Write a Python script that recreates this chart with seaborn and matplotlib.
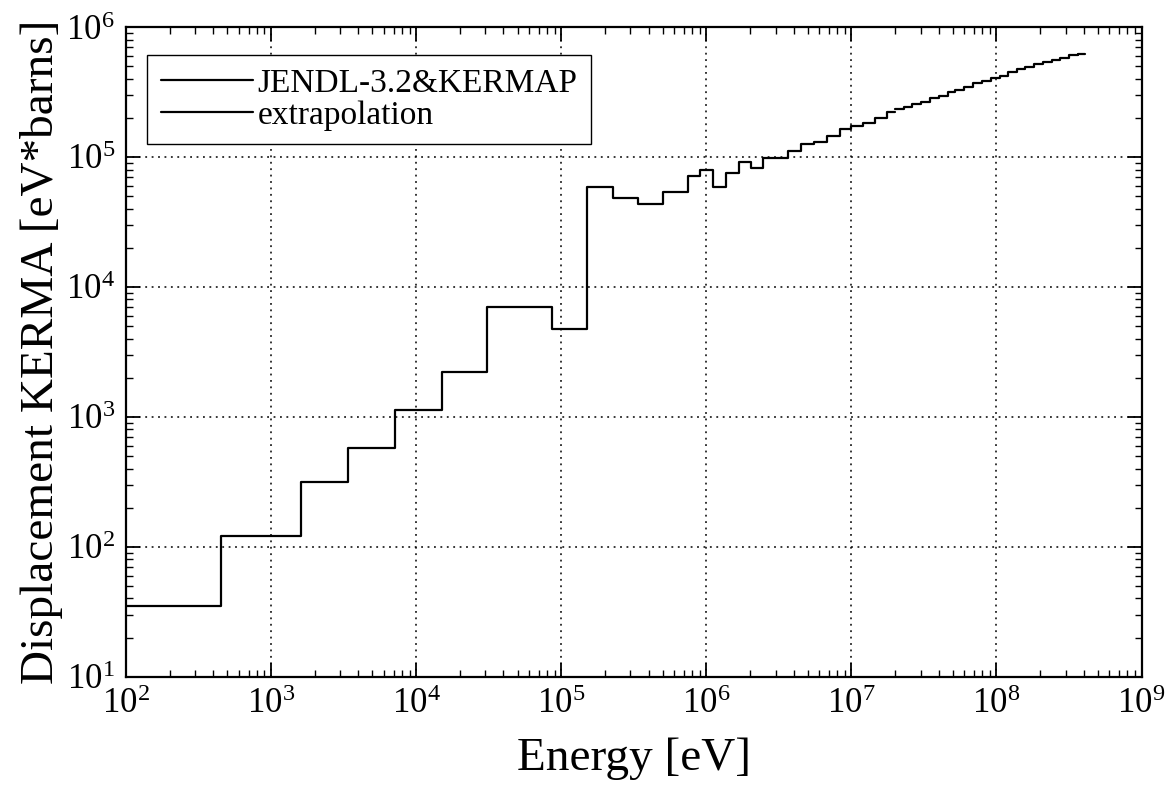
import numpy as np
import pandas as pd
import matplotlib
matplotlib.use("Agg")
import matplotlib.pyplot as plt
import seaborn as sns
from matplotlib.ticker import LogLocator, LogFormatterSciNotation, NullFormatter

# Displacement KERMA group structure (bin edges in eV and group values in eV*barns)
jendl_edges = [1.0e2, 4.5e2, 1.6e3, 3.4e3, 7.2e3, 1.5e4, 3.1e4, 8.7e4, 1.5e5,
               2.26e5, 3.38e5, 5.02e5, 7.43e5, 9.03e5, 1.12e6, 1.36e6, 1.67e6,
               2.04e6, 2.47e6, 3.66e6, 4.49e6, 5.52e6, 6.75e6, 8.34e6, 1.0e7,
               1.2e7, 1.45e7, 1.75e7, 2.0e7]
jendl_values = [35, 121, 315, 580, 1130, 2200, 7000, 4700, 59000, 48700,
                43500, 54000, 71000, 79000, 58600, 75700, 91500, 82300, 98500,
                111000, 125000, 130000, 145000, 163000, 172000, 182000,
                200000, 223000]

extrap_edges = [2.0e7, 2.3e7, 2.6e7, 3.0e7, 3.5e7, 4.0e7, 4.6e7, 5.2e7, 6.0e7,
                6.9e7, 8.0e7, 9.1e7, 1.05e8, 1.2e8, 1.38e8, 1.58e8, 1.82e8,
                2.09e8, 2.4e8, 2.75e8, 3.16e8, 3.63e8, 4.05e8]
extrap_values = [232000, 243000, 255000, 266000, 282000, 297000, 314000,
                 330000, 348000, 368000, 384000, 402000, 422000, 448000,
                 472000, 494000, 518000, 540000, 562000, 582000, 604000,
                 622000]

series_labels = ["JENDL-3.2&KERMAP", "extrapolation"]

x_label = "Energy [eV]"
y_label = "Displacement KERMA [eV*barns]"


def step_frame(edges, values, name):
    # steps-post needs the final edge repeated with the last value
    return pd.DataFrame({
        "energy": list(edges),
        "kerma": list(values) + [values[-1]],
        "source": name,
    })


sns.set_style("ticks")
plt.rcParams["font.family"] = ["Liberation Serif", "DejaVu Serif"]
plt.rcParams["mathtext.fontset"] = "custom"
plt.rcParams["mathtext.rm"] = "Liberation Serif"
plt.rcParams["mathtext.it"] = "Liberation Serif:italic"
plt.rcParams["text.color"] = "black"
plt.rcParams["axes.labelcolor"] = "black"
plt.rcParams["xtick.color"] = "black"
plt.rcParams["ytick.color"] = "black"

fig = plt.figure(figsize=(11.72, 7.85), dpi=100)
ax = fig.add_axes([0.1075, 0.138, 0.8665, 0.8276])

df_j = step_frame(jendl_edges, jendl_values, series_labels[0])
df_e = step_frame(extrap_edges, extrap_values, series_labels[1])

for df, lab in ((df_j, series_labels[0]), (df_e, series_labels[1])):
    sns.lineplot(data=df, x="energy", y="kerma", ax=ax, color="black",
                 linewidth=1.6, drawstyle="steps-post", estimator=None,
                 sort=False, label=lab)

ax.set_xscale("log")
ax.set_yscale("log")
ax.set_xlim(1e2, 1e9)
ax.set_ylim(1e1, 1e6)

ax.xaxis.set_major_locator(LogLocator(base=10, numticks=20))
ax.yaxis.set_major_locator(LogLocator(base=10, numticks=20))
ax.xaxis.set_minor_locator(LogLocator(base=10, subs=np.arange(2, 10), numticks=100))
ax.yaxis.set_minor_locator(LogLocator(base=10, subs=np.arange(2, 10), numticks=100))
ax.xaxis.set_major_formatter(LogFormatterSciNotation())
ax.yaxis.set_major_formatter(LogFormatterSciNotation())
ax.xaxis.set_minor_formatter(NullFormatter())
ax.yaxis.set_minor_formatter(NullFormatter())

ax.grid(True, which="major", linestyle=(0, (1.2, 3.0)), color="black",
        linewidth=1.1)
ax.tick_params(which="both", direction="in", top=True, right=True,
               colors="black", labelcolor="black")
ax.tick_params(which="major", length=10, width=1.3, labelsize=25, pad=8)
ax.tick_params(which="minor", length=5, width=1.0)
for side in ax.spines.values():
    side.set_linewidth(1.6)
    side.set_color("black")

ax.set_xlabel(x_label, fontsize=34, labelpad=12)
ax.set_ylabel(y_label, fontsize=34, labelpad=2)

leg = ax.legend(loc="upper left", bbox_to_anchor=(0.021, 0.957),
                fontsize=24, frameon=True, fancybox=False, framealpha=1,
                edgecolor="black", handlelength=2.76, handletextpad=0.15,
                borderpad=0.4, labelspacing=0.05, borderaxespad=0)
leg.get_frame().set_linewidth(1.0)

fig.savefig("out.png", dpi=100)
